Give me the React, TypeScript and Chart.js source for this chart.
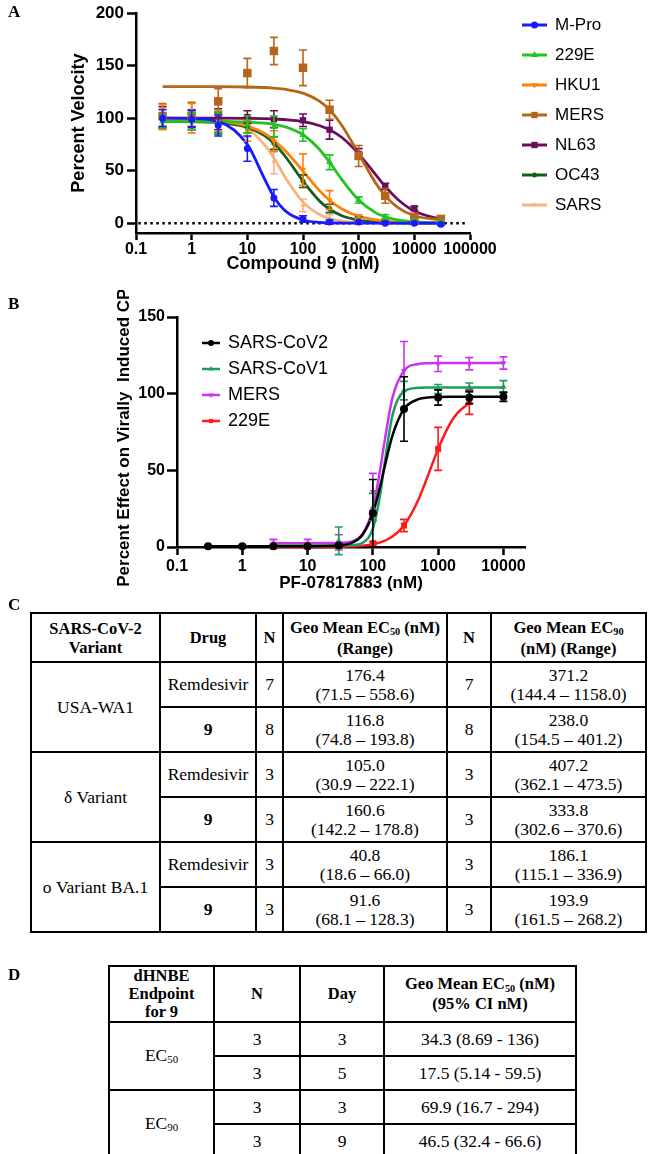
import React, { useEffect, useRef } from "react";
import { Chart, registerables } from "chart.js";

Chart.register(...registerables);

const SANS = '"Liberation Sans", Arial, Helvetica, sans-serif';
const SERIF = '"Liberation Serif", "Times New Roman", Times, serif';

// ---------------- Panel A data ----------------
const doseA = [0.3, 1, 3, 10, 30, 100, 300, 1000, 3000, 10000, 30000];
const fitDoseA = [0.3, 1, 3, 10, 20, 30, 50, 100, 200, 300, 500, 1000, 2000, 3000, 5000, 10000, 30000];
const labelsA = ["M-Pro", "229E", "HKU1", "MERS", "NL63", "OC43", "SARS"];

const mproA = [100, 99, 93, 71, 24, 4, 1, 1, 0, 0, -1];
const mproErrA = [8, 8, 10, 12, 8, 3, 2, 1, 1, 1, 1];
const mproFitA = [100, 99.7, 97, 75, 43, 25, 11, 3, 0.7, 0.3, 0.1, 0, 0, 0, 0, 0, 0];

const e229A = [97, 97, 96, 94, 92, 84, 58, 22, 6, 2, 1];
const e229ErrA = [6, 8, 10, 8, 10, 6, 7, 3, 2, 1, 1];
const e229FitA = [97, 97, 97, 96.3, 95.3, 94.2, 91.5, 84.2, 69.9, 58, 41.5, 22, 10, 6.1, 3.1, 1.3, 0.3];

const hku1A = [101, 100, 97, 88, 78, 51, 22, 5, 2, 1, 1];
const hku1ErrA = [12, 14, 10, 10, 10, 15, 9, 3, 2, 1, 1];
const hku1FitA = [99, 98.5, 97.3, 92.5, 85.6, 79, 68, 49.5, 30.7, 21.8, 13.5, 6.6, 3.1, 1.9, 1.1, 0.5, 0.2];

const mersA = [102, 102, 116, 143, 164, 148, 108, 64, 26, 6, 4];
const mersErrA = [12, 13, 12, 14, 13, 17, 9, 10, 7, 3, 3];
const mersFitA = [130, 130, 130, 129.7, 129.2, 128.6, 127.4, 123.8, 116, 108, 93, 66, 38.6, 26, 15, 7, 3];

const nl63A = [101, 100, 99, 101, 99, 98, 89, 66, 35, 14, 4];
const nl63ErrA = [10, 8, 10, 6, 8, 6, 9, 5, 3, 2, 2];
const nl63FitA = [100, 100, 100, 99.8, 99.5, 99.2, 98.5, 96.7, 92.8, 89, 81.6, 66, 46.4, 35, 22.8, 11.5, 3.5];

const oc43A = [97, 97, 95, 92, 76, 40, 14, 4, 2, 1, 1];
const oc43ErrA = [6, 8, 10, 6, 6, 6, 4, 2, 1, 1, 1];
const oc43FitA = [97, 96.7, 95.8, 91.3, 83.6, 76, 62.3, 40, 20.8, 13.2, 7.1, 2.9, 1.1, 0.7, 0.3, 0, 0];

const sarsA = [101, 100, 95, 88, 59, 17, 5, 2, 1, 0, 0];
const sarsErrA = [8, 8, 8, 6, 12, 6, 3, 2, 1, 1, 1];
const sarsFitA = [99.9, 99.7, 98.3, 90, 75, 62, 42, 20, 8, 4.3, 2, 0.7, 0.3, 0.1, 0, 0, 0];

const zeroLineXA = [0.11, 85000];
const zeroLineYA = [0, 0];
const xTicksA = [0.1, 1, 10, 100, 1000, 10000, 100000];
const xTickLabelsA = ["0.1", "1", "10", "100", "1000", "10000", "100000"];
const yTicksA = [0, 50, 100, 150, 200];
const xTitleA = "Compound 9 (nM)";
const yTitleA = "Percent Velocity";

// ---------------- Panel B data ----------------
const doseB = [0.3, 1, 3, 10, 30, 100, 300, 1000, 3000, 10000];
const fitDoseB = [0.3, 1, 3, 10, 20, 30, 50, 70, 100, 130, 150, 200, 300, 500, 700, 1000, 1500, 2000, 3000, 10000];
const labelsB = ["SARS-CoV2", "SARS-CoV1", "MERS", "229E"];

const cov2B = [0.5, 0.5, 0.5, 0.5, 1, 22, 90, 97.5, 97.5, 98];
const cov2ErrB = [0.5, 0.5, 0.5, 0.5, 1, 22, 21, 5, 4, 3];
const cov2FitB = [0.5, 0.5, 0.5, 0.5, 0.6, 1, 3.1, 8.2, 22, 40, 51.5, 72.8, 90, 96.4, 97.5, 97.8, 98, 98, 98, 98];

const cov1B = [null, null, 1, 1, 4, 26, 102, 103, 104, 104.5];
const cov1ErrB = [null, null, 1, 1, 9, 9, 6, 3, 3, 4];
const cov1FitB = [null, null, 1, 1, 1, 1, 1.3, 2.8, 12, 34.7, 53.4, 86, 101.5, 103.8, 104, 104, 104, 104, 104, 104];

const mersB = [null, null, 2.5, 2.5, 3, 36, 115, 119.5, 119.5, 120];
const mersErrB = [null, null, 2.5, 2.5, 5, 12, 19, 5, 4, 4];
const mersFitB = [null, null, 2.5, 2.5, 2.55, 2.7, 4, 8.5, 25, 51, 68, 97.4, 115, 119.4, 119.9, 120, 120, 120, 120, 120];

const e229B = [null, null, 0, 0, 1, 2.5, 14, 64, 94.5, null];
const e229ErrB = [null, null, 0.5, 0.5, 0.5, 1, 4, 14, 8, null];
const e229FitB = [null, null, 0, 0, 0.1, 0.2, 0.5, 0.9, 1.8, 3, 4, 6.8, 14, 31, 46.7, 64, 80, 87.6, 94, null];

const xTicksB = [0.1, 1, 10, 100, 1000, 10000];
const xTickLabelsB = ["0.1", "1", "10", "100", "1000", "10000"];
const yTicksB = [0, 50, 100, 150];
const xTitleB = "PF-07817883 (nM)";
const yTitleB = "Percent Effect on Virally  Induced CPE";

// ---------------- Table C data ----------------
const variantsC = ["USA-WA1", "δ Variant", "ο Variant BA.1"];
const drugsC = ["Remdesivir", "9", "Remdesivir", "9", "Remdesivir", "9"];
const nEc50C = ["7", "8", "3", "3", "3", "3"];
const ec50C = ["176.4", "116.8", "105.0", "160.6", "40.8", "91.6"];
const ec50RangeC = ["(71.5 – 558.6)", "(74.8 – 193.8)", "(30.9 – 222.1)", "(142.2 – 178.8)", "(18.6 – 66.0)", "(68.1 – 128.3)"];
const nEc90C = ["7", "8", "3", "3", "3", "3"];
const ec90C = ["371.2", "238.0", "407.2", "333.8", "186.1", "193.9"];
const ec90RangeC = ["(144.4 – 1158.0)", "(154.5 – 401.2)", "(362.1 – 473.5)", "(302.6 – 370.6)", "(115.1 – 336.9)", "(161.5 – 268.2)"];

// ---------------- Table D data ----------------
const endpointSubD = ["50", "90"];
const nD = ["3", "3", "3", "3"];
const dayD = ["3", "5", "3", "9"];
const ecD = ["34.3 (8.69 - 136)", "17.5 (5.14 - 59.5)", "69.9 (16.7 - 294)", "46.5 (32.4 - 66.6)"];

// ---------------- styles ----------------
const seriesA = [
  { label: labelsA[0], y: mproA, err: mproErrA, fit: mproFitA, color: "#1a1aff", marker: "circle", r: 3.5 },
  { label: labelsA[1], y: e229A, err: e229ErrA, fit: e229FitA, color: "#22c422", marker: "triangle", r: 4 },
  { label: labelsA[2], y: hku1A, err: hku1ErrA, fit: hku1FitA, color: "#ff800a", marker: "triangleDown", r: 3.5 },
  { label: labelsA[3], y: mersA, err: mersErrA, fit: mersFitA, color: "#b5661b", marker: "rect", r: 6 },
  { label: labelsA[4], y: nl63A, err: nl63ErrA, fit: nl63FitA, color: "#6b0d5c", marker: "rect", r: 4.5 },
  { label: labelsA[5], y: oc43A, err: oc43ErrA, fit: oc43FitA, color: "#175e17", marker: "circle", r: 2.5 },
  { label: labelsA[6], y: sarsA, err: sarsErrA, fit: sarsFitA, color: "#f8b47e", marker: "triangle", r: 3 },
];

const seriesB = [
  { label: labelsB[0], y: cov2B, err: cov2ErrB, fit: cov2FitB, color: "#000000", marker: "circle", r: 4 },
  { label: labelsB[1], y: cov1B, err: cov1ErrB, fit: cov1FitB, color: "#1a9e5e", marker: "triangle", r: 3.5 },
  { label: labelsB[2], y: mersB, err: mersErrB, fit: mersFitB, color: "#cc33f0", marker: "triangleDown", r: 3.5 },
  { label: labelsB[3], y: e229B, err: e229ErrB, fit: e229FitB, color: "#ff1a1a", marker: "rect", r: 4.2 },
];

function buildDatasets(dose: number[], fitDose: number[], series: any[], lineWidth: number, cap: number) {
  const ds: any[] = [];
  series.forEach((s) => {
    const fitData: any[] = [];
    fitDose.forEach((x, i) => {
      if (s.fit[i] != null) fitData.push({ x, y: s.fit[i] });
    });
    ds.push({
      label: s.label + " fit",
      data: fitData,
      showLine: true,
      borderColor: s.color,
      backgroundColor: s.color,
      borderWidth: lineWidth,
      pointRadius: 0,
      cubicInterpolationMode: "monotone",
      clip: false,
      order: 1,
    });
    const pd: any[] = [];
    const pe: any[] = [];
    dose.forEach((x, i) => {
      if (s.y[i] != null) {
        pd.push({ x, y: s.y[i] });
        pe.push(s.err[i]);
      }
    });
    ds.push({
      label: s.label,
      data: pd,
      errors: pe,
      capHalf: cap,
      showLine: false,
      pointStyle: s.marker === "triangleDown" ? "triangle" : s.marker,
      pointRotation: s.marker === "triangleDown" ? 180 : 0,
      pointRadius: s.r,
      pointBorderWidth: 0,
      backgroundColor: s.color,
      borderColor: s.color,
      clip: false,
      order: 0,
    });
  });
  return ds;
}

const errorBarPlugin = {
  id: "errorBars",
  beforeDatasetDraw(chart: any, args: any) {
    const ds: any = chart.data.datasets[args.index];
    if (!ds.errors) return;
    const ys = chart.scales.y;
    const ctx = chart.ctx;
    ctx.save();
    ctx.strokeStyle = ds.borderColor;
    ctx.lineWidth = 1.6;
    const c = ds.capHalf || 4;
    args.meta.data.forEach((el: any, i: number) => {
      const e = ds.errors[i];
      if (!e) return;
      const v = ds.data[i].y;
      const t = ys.getPixelForValue(v + e);
      const b = ys.getPixelForValue(v - e);
      const x = el.x;
      ctx.beginPath();
      ctx.moveTo(x, t);
      ctx.lineTo(x, b);
      ctx.moveTo(x - c, t);
      ctx.lineTo(x + c, t);
      ctx.moveTo(x - c, b);
      ctx.lineTo(x + c, b);
      ctx.stroke();
    });
    ctx.restore();
  },
};

function drawMarker(ctx: CanvasRenderingContext2D, kind: string, x: number, y: number, r: number, color: string) {
  ctx.fillStyle = color;
  ctx.beginPath();
  if (kind === "circle") {
    ctx.arc(x, y, r, 0, Math.PI * 2);
  } else if (kind === "rect") {
    const h = r * Math.SQRT1_2;
    ctx.rect(x - h, y - h, 2 * h, 2 * h);
  } else {
    const d = kind === "triangle" ? 1 : -1;
    ctx.moveTo(x, y - d * r);
    ctx.lineTo(x + r * 0.866, y + (d * r) / 2);
    ctx.lineTo(x - r * 0.866, y + (d * r) / 2);
    ctx.closePath();
  }
  ctx.fill();
}

function makeLegend(series: any[], cfg: any) {
  return {
    id: "sideLegend",
    afterDraw(chart: any) {
      const ctx = chart.ctx as CanvasRenderingContext2D;
      ctx.save();
      series.forEach((s, i) => {
        const y = cfg.y0 + i * cfg.dy;
        ctx.strokeStyle = s.color;
        ctx.lineWidth = cfg.lineWidth;
        ctx.beginPath();
        ctx.moveTo(cfg.x0, y);
        ctx.lineTo(cfg.x1, y);
        ctx.stroke();
        drawMarker(ctx, s.marker, (cfg.x0 + cfg.x1) / 2, y, Math.min(s.r, cfg.maxR), s.color);
        ctx.fillStyle = "#000";
        ctx.font = cfg.font;
        ctx.textAlign = "left";
        ctx.textBaseline = "middle";
        ctx.fillText(s.label, cfg.textX, y);
      });
      ctx.restore();
    },
  };
}

function tickLabel(values: number[], labels: string[], v: any) {
  const n = Number(v);
  for (let i = 0; i < values.length; i++) {
    if (Math.abs(values[i] - n) < values[i] * 1e-6) return labels[i];
  }
  return "";
}

function bold(size: number) {
  return { family: SANS, size, weight: "bold" as const };
}

function makeConfigA(): any {
  const datasets = buildDatasets(doseA, fitDoseA, seriesA, 2.8, 4);
  datasets.push({
    label: "zero",
    data: zeroLineXA.map((x, i) => ({ x, y: zeroLineYA[i] })),
    showLine: true,
    borderColor: "#000",
    borderWidth: 2.5,
    borderDash: [2.5, 3.5],
    pointRadius: 0,
    order: 2,
  });
  return {
    type: "scatter",
    data: { datasets },
    plugins: [errorBarPlugin, makeLegend(seriesA, { x0: 522, x1: 547, textX: 555, y0: 25, dy: 30, lineWidth: 3, font: `17px ${SANS}`, maxR: 4.5 })],
    options: {
      responsive: false,
      animation: false,
      events: [],
      layout: { padding: { left: 0, top: 10, right: 178, bottom: 0 } },
      plugins: { legend: { display: false }, tooltip: { enabled: false } },
      scales: {
        x: {
          type: "logarithmic",
          min: 0.1,
          max: 100000,
          afterBuildTicks: (s: any) => {
            s.ticks = xTicksA.map((v) => ({ value: v }));
          },
          afterFit: (s: any) => {
            s.height = 42;
          },
          ticks: { autoSkip: false, maxRotation: 0, padding: 0, color: "#000", font: bold(16), callback: (v: any) => tickLabel(xTicksA, xTickLabelsA, v) },
          grid: { display: true, drawOnChartArea: false, drawTicks: true, tickLength: 7, tickWidth: 2.5, tickColor: "#000" },
          border: { display: true, color: "#000", width: 2.5 },
          title: { display: true, text: xTitleA, color: "#000", font: bold(18), padding: { top: 0, bottom: 0 } },
        },
        y: {
          type: "linear",
          min: -9.4,
          max: 200,
          afterBuildTicks: (s: any) => {
            s.ticks = yTicksA.map((v) => ({ value: v }));
          },
          afterFit: (s: any) => {
            s.width = 136;
          },
          ticks: { padding: 3, color: "#000", font: bold(17) },
          grid: { display: true, drawOnChartArea: false, drawTicks: true, tickLength: 9, tickWidth: 2.5, tickColor: "#000" },
          border: { display: true, color: "#000", width: 2.5 },
          title: { display: true, text: yTitleA, color: "#000", font: bold(18), padding: { top: 68, bottom: 0 } },
        },
      },
    },
  };
}

function makeConfigB(): any {
  const datasets = buildDatasets(doseB, fitDoseB, seriesB, 2.5, 4);
  return {
    type: "scatter",
    data: { datasets },
    plugins: [errorBarPlugin, makeLegend(seriesB, { x0: 202, x1: 220, textX: 228, y0: 53, dy: 26, lineWidth: 2.5, font: `18px ${SANS}`, maxR: 3 })],
    options: {
      responsive: false,
      animation: false,
      events: [],
      layout: { padding: { left: 0, top: 27, right: 123, bottom: 0 } },
      plugins: { legend: { display: false }, tooltip: { enabled: false } },
      scales: {
        x: {
          type: "logarithmic",
          min: 0.1,
          max: 21400,
          afterBuildTicks: (s: any) => {
            s.ticks = xTicksB.map((v) => ({ value: v }));
          },
          afterFit: (s: any) => {
            s.height = 48;
          },
          ticks: { autoSkip: false, maxRotation: 0, padding: 2, color: "#000", font: bold(16), callback: (v: any) => tickLabel(xTicksB, xTickLabelsB, v) },
          grid: { display: true, drawOnChartArea: false, drawTicks: true, tickLength: 8, tickWidth: 2.5, tickColor: "#000" },
          border: { display: true, color: "#000", width: 2.5 },
          title: { display: true, text: xTitleB, color: "#000", font: bold(17), padding: { top: 0, bottom: 1 } },
        },
        y: {
          type: "linear",
          min: 0,
          max: 150,
          afterBuildTicks: (s: any) => {
            s.ticks = yTicksB.map((v) => ({ value: v }));
          },
          afterFit: (s: any) => {
            s.width = 177;
          },
          ticks: { padding: 2, color: "#000", font: bold(16) },
          grid: { display: true, drawOnChartArea: false, drawTicks: true, tickLength: 10, tickWidth: 2.5, tickColor: "#000" },
          border: { display: true, color: "#000", width: 2.5 },
          title: { display: true, text: yTitleB, color: "#000", font: bold(17), padding: { top: 114, bottom: 0 } },
        },
      },
    },
  };
}

function ChartCanvas({ make, top, height }: { make: () => any; top: number; height: number }) {
  const ref = useRef<HTMLCanvasElement>(null);
  useEffect(() => {
    const chart = new Chart(ref.current as HTMLCanvasElement, make());
    return () => chart.destroy();
  }, []);
  return (
    <canvas
      ref={ref}
      width={648}
      height={height}
      style={{ position: "absolute", left: 0, top, width: 648, height, display: "block" }}
    />
  );
}

const cellBase: React.CSSProperties = {
  border: "2px solid #000",
  textAlign: "center",
  verticalAlign: "middle",
  padding: 0,
};

function Sub({ t }: { t: string }) {
  return <span style={{ fontSize: "0.62em", position: "relative", top: "0.25em" }}>{t}</span>;
}

function TableC() {
  const widths = [129, 96, 27, 164, 44, 155];
  const rows: React.ReactNode[] = [];
  for (let i = 0; i < 6; i++) {
    rows.push(
      <tr key={i} style={{ height: 45 }}>
        {i % 2 === 0 ? (
          <td rowSpan={2} style={{ ...cellBase }}>{variantsC[i / 2]}</td>
        ) : null}
        <td style={{ ...cellBase, fontWeight: drugsC[i] === "9" ? "bold" : "normal" }}>{drugsC[i]}</td>
        <td style={cellBase}>{nEc50C[i]}</td>
        <td style={cellBase}>
          {ec50C[i]}
          <br />
          {ec50RangeC[i]}
        </td>
        <td style={cellBase}>{nEc90C[i]}</td>
        <td style={cellBase}>
          {ec90C[i]}
          <br />
          {ec90RangeC[i]}
        </td>
      </tr>
    );
  }
  const hd: React.CSSProperties = { ...cellBase, fontWeight: "bold", fontSize: 16.5 };
  return (
    <table
      style={{
        position: "absolute",
        left: 30,
        top: 612,
        width: 615,
        borderCollapse: "collapse",
        tableLayout: "fixed",
        fontFamily: SERIF,
        fontSize: 17.5,
        lineHeight: "19px",
        color: "#000",
      }}
    >
      <colgroup>
        {widths.map((w, i) => (
          <col key={i} style={{ width: w }} />
        ))}
      </colgroup>
      <tbody>
        <tr style={{ height: 49 }}>
          <td style={hd}>
            SARS-CoV-2
            <br />
            Variant
          </td>
          <td style={hd}>Drug</td>
          <td style={hd}>N</td>
          <td style={hd}>
            Geo Mean EC<Sub t="50" /> (nM)
            <br />
            (Range)
          </td>
          <td style={hd}>N</td>
          <td style={hd}>
            Geo Mean EC<Sub t="90" />
            <br />
            (nM) (Range)
          </td>
        </tr>
        {rows}
      </tbody>
    </table>
  );
}

function TableD() {
  const widths = [105, 86, 84, 192];
  const hd: React.CSSProperties = { ...cellBase, fontWeight: "bold", fontSize: 16.5, lineHeight: "18px" };
  const rows: React.ReactNode[] = [];
  for (let i = 0; i < 4; i++) {
    rows.push(
      <tr key={i} style={{ height: 34 }}>
        {i % 2 === 0 ? (
          <td rowSpan={2} style={cellBase}>
            EC<Sub t={endpointSubD[i / 2]} />
          </td>
        ) : null}
        <td style={cellBase}>{nD[i]}</td>
        <td style={cellBase}>{dayD[i]}</td>
        <td style={cellBase}>{ecD[i]}</td>
      </tr>
    );
  }
  return (
    <table
      style={{
        position: "absolute",
        left: 108,
        top: 965,
        width: 467,
        borderCollapse: "collapse",
        tableLayout: "fixed",
        fontFamily: SERIF,
        fontSize: 17.5,
        lineHeight: "19px",
        color: "#000",
      }}
    >
      <colgroup>
        {widths.map((w, i) => (
          <col key={i} style={{ width: w }} />
        ))}
      </colgroup>
      <tbody>
        <tr style={{ height: 53 }}>
          <td style={hd}>
            dHNBE
            <br />
            Endpoint
            <br />
            for 9
          </td>
          <td style={hd}>N</td>
          <td style={hd}>Day</td>
          <td style={hd}>
            Geo Mean EC<Sub t="50" /> (nM)
            <br />
            (95% CI nM)
          </td>
        </tr>
        {rows}
      </tbody>
    </table>
  );
}

function PanelLetter({ t, top }: { t: string; top: number }) {
  return (
    <div
      style={{
        position: "absolute",
        left: 8,
        top,
        fontFamily: SERIF,
        fontWeight: "bold",
        fontSize: 17,
        lineHeight: "20px",
        color: "#000",
      }}
    >
      {t}
    </div>
  );
}

export default function App() {
  return (
    <div style={{ position: "absolute", left: 0, top: 0, width: 648, height: 1154, background: "#fff", overflow: "hidden" }}>
      <ChartCanvas make={makeConfigA} top={0} height={275} />
      <ChartCanvas make={makeConfigB} top={290} height={305} />
      <PanelLetter t="A" top={2} />
      <PanelLetter t="B" top={294} />
      <PanelLetter t="C" top={595} />
      <PanelLetter t="D" top={965} />
      <TableC />
      <TableD />
    </div>
  );
}
